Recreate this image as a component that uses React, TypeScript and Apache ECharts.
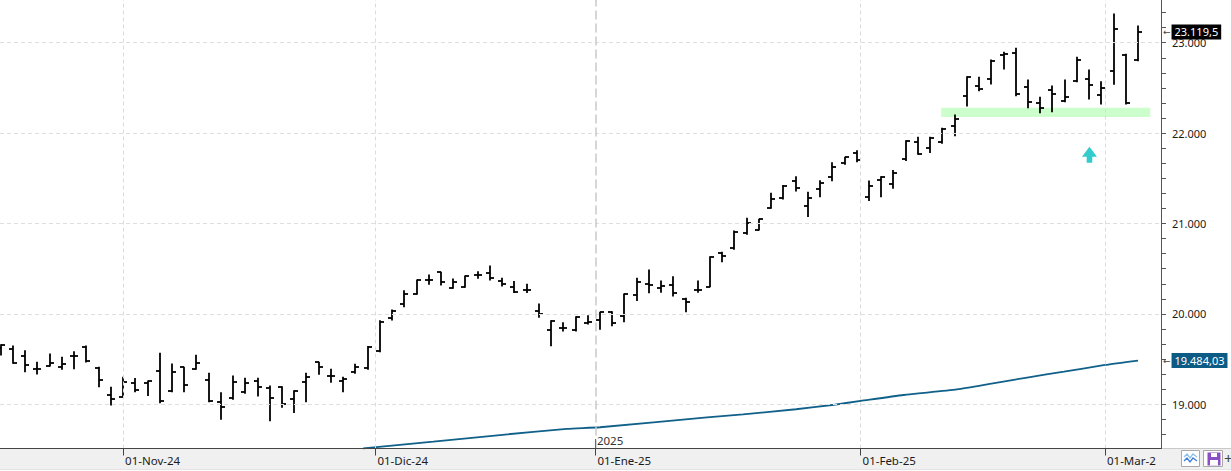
import React, { useEffect, useRef } from 'react';
import * as echarts from 'echarts';

// OHLC bars, one per trading day (index 0 = 18-Oct-24 ... 93 = 05-Mar-25)
const opens = [19620,19608,19534,19391,19424,19416,19534,19638,19398,19103,19085,19239,19239,19365,19151,19409,19387,19269,19029,19074,19133,19258,19177,19188,19055,19243,19464,19313,19258,19361,19398,19590,19951,20110,20216,20375,20460,20283,20294,20430,20449,20364,20301,20264,20032,19822,19848,19822,19903,19933,20025,19981,20209,20327,20283,20320,20161,20264,20301,20677,20733,20899,20928,21168,21279,21470,21197,21378,21511,21673,21784,21297,21481,21437,21716,21905,21832,21905,22082,22414,22525,22595,22864,22882,22506,22329,22477,22359,22573,22595,22422,22687,22864,22805];
const highs = [19660,19645,19593,19464,19557,19520,19582,19645,19409,19188,19298,19284,19258,19564,19446,19409,19542,19343,19129,19313,19287,19287,19203,19195,19151,19343,19464,19387,19298,19442,19638,19925,20043,20257,20375,20430,20460,20386,20419,20467,20530,20393,20357,20327,20110,19925,19903,19969,19980,20017,20025,20220,20394,20486,20364,20412,20172,20364,20633,20681,20917,21057,21046,21334,21419,21518,21345,21474,21673,21732,21806,21470,21518,21585,21916,21953,21953,22053,22200,22624,22617,22809,22893,22938,22587,22396,22521,22587,22838,22698,22569,23317,22871,23185];
const lows = [19545,19454,19361,19335,19424,19387,19394,19468,19195,18992,19085,19140,19096,19018,19140,19140,19387,19029,18834,19055,19121,19092,18819,18967,18908,19029,19331,19243,19140,19343,19387,19582,19932,20080,20216,20327,20320,20283,20294,20393,20375,20309,20238,20238,19962,19649,19811,19811,19888,19829,19870,19914,20147,20235,20239,20198,20025,20239,20301,20578,20714,20880,20928,21168,21271,21360,21076,21297,21474,21655,21684,21253,21297,21389,21698,21765,21784,21887,21972,22300,22469,22543,22709,22414,22281,22226,22237,22348,22569,22377,22322,22540,22322,22801];
const closes = [19659,19454,19435,19391,19453,19446,19534,19483,19269,19055,19250,19158,19258,19033,19361,19214,19461,19040,18974,19250,19232,19188,19066,19003,19147,19306,19409,19313,19276,19416,19638,19914,20036,20220,20375,20375,20357,20349,20419,20430,20393,20331,20246,20264,19995,19921,19848,19969,19914,20017,19900,20220,20349,20320,20312,20228,20135,20264,20626,20641,20902,21002,21046,21271,21419,21389,21279,21452,21621,21732,21702,21415,21511,21562,21916,21765,21942,22045,22152,22617,22484,22801,22871,22429,22340,22274,22429,22396,22805,22528,22495,23148,22329,23119.5];

// moving average line, read at these bar positions
const smaIdx = [29.64,35.37,40.82,46.28,49,57.75,60.7,65.03,67.97,70.32,73.83,78.2,81.13,84.05,86.95,90.3,93];
const smaVals = [18513,18586,18660,18727,18746,18856,18889,18945,18992,19037,19103,19165,19232,19299,19361,19435,19484.03];

const monthLabels = ['01-Nov-24', '01-Dic-24', '01-Ene-25', '01-Feb-25', '01-Mar-2'];
const monthPositions = [10, 30.64, 48.63, 70.31, 90.3];
const yTicks = [19000, 20000, 21000, 22000, 23000];

const bandX = [76.9, 94.0];
const bandY = [22178, 22281];
const arrowPos = [89.03, 21760];
const yearLabel = '2025';
const yearPos = [48.63, 18594];

const FONT = '"Noto Sans", "DejaVu Sans", sans-serif';

function fmtEs(v: number, d: number): string {
  const s = v.toFixed(d);
  const [intPart, dec] = s.split('.');
  const g = intPart.replace(/\B(?=(\d{3})+(?!\d))/g, '.');
  return dec ? g + ',' + dec : g;
}

export default function App() {
  const ref = useRef<HTMLDivElement>(null);
  useEffect(() => {
    document.body.style.margin = '0';
    const chart = echarts.init(ref.current!, null, { renderer: 'svg' });
    const ohlc = opens.map((o, i) => [i, o, closes[i], lows[i], highs[i]]);
    const lastClose = closes[closes.length - 1];
    const lastSma = smaVals[smaVals.length - 1];
    const tagLabel = (text: string, bg: string) => ({
      show: true,
      position: 'end',
      distance: 2,
      formatter: '{a|←}{b|' + text + '}',
      rich: {
        a: { color: '#444', fontSize: 9, fontFamily: '"DejaVu Sans", sans-serif', padding: [0, 1, 0, 0] },
        b: { color: '#fff', backgroundColor: bg, fontSize: 11, fontFamily: FONT, padding: [2, 3, 2, 3], lineHeight: 12 },
      },
    });
    const option: any = {
      animation: false,
      backgroundColor: '#ffffff',
      grid: { left: 0, right: 70, top: 0, bottom: 22.5, containLabel: false },
      xAxis: {
        type: 'value',
        min: -0.065,
        max: 94.88,
        z: 5,
        axisLine: { show: true, onZero: false, lineStyle: { color: '#444', width: 1 } },
        axisTick: { show: true, length: 7, customValues: monthPositions, lineStyle: { color: '#444' } },
        axisLabel: {
          customValues: monthPositions,
          formatter: (v: number) => {
            const k = monthPositions.findIndex((p) => Math.abs(p - v) < 1e-6);
            return k >= 0 ? monthLabels[k] : '';
          },
          align: 'left',
          margin: 6,
          padding: [0, 0, 0, 2],
          color: '#1a1a1a',
          fontSize: 11.5,
          fontFamily: FONT,
        },
        splitLine: { show: false },
      },
      yAxis: {
        type: 'value',
        position: 'right',
        min: 18511,
        max: 23472.3,
        z: 5,
        axisLine: { show: true, onZero: false, lineStyle: { color: '#555', width: 1 } },
        axisTick: { show: true, length: 5, customValues: yTicks, lineStyle: { color: '#555' } },
        minorTick: { show: true, splitNumber: 6, length: 5, lineStyle: { color: '#555' } },
        axisLabel: {
          customValues: yTicks,
          formatter: (v: number) => fmtEs(v, 0),
          margin: 11,
          color: '#1a1a1a',
          fontSize: 11,
          fontFamily: FONT,
        },
        splitLine: { show: true, lineStyle: { color: '#dedede', width: 1, type: [4, 3] } },
      },
      series: [
        {
          type: 'line',
          name: 'sma',
          data: smaIdx.map((x, i) => [x, smaVals[i]]),
          showSymbol: false,
          symbol: 'none',
          smooth: 0.2,
          clip: false,
          z: 2,
          lineStyle: { color: '#10608a', width: 1.8 },
          markArea: {
            silent: true,
            itemStyle: { color: '#ccffcc' },
            data: [[{ coord: [bandX[0], bandY[0]] }, { coord: [bandX[1], bandY[1]] }]],
          },
          markLine: {
            silent: true,
            symbol: ['none', 'none'],
            label: { show: false },
            data: [
              ...monthPositions.map((p, i) => ({
                xAxis: p,
                label: { show: false },
                lineStyle: i === 2
                  ? { color: '#c9c9c9', width: 1.5, type: [9, 4] }
                  : { color: '#dcdcdc', width: 1, type: [4, 3] },
              })),
              [
                { coord: [monthPositions[2], 18616], label: { show: false }, lineStyle: { color: '#6a6a6a', width: 1, type: 'solid' } },
                { coord: [monthPositions[2], 18511] },
              ],
              { yAxis: lastClose, lineStyle: { color: 'rgba(0,0,0,0)', width: 1 }, label: tagLabel(fmtEs(lastClose, 1), '#000000') },
              { yAxis: lastSma, lineStyle: { color: 'rgba(0,0,0,0)', width: 1 }, label: tagLabel(fmtEs(lastSma, 2), '#0b5b85') },
            ],
          },
          markPoint: {
            silent: true,
            data: [
              {
                coord: arrowPos,
                symbol: 'path://M7.5,0 L15,10 L10.3,10 L10.3,16 L4.7,16 L4.7,10 L0,10 Z',
                symbolSize: [15, 16],
                itemStyle: { color: '#33cccc' },
                label: { show: false },
              },
              {
                coord: yearPos,
                symbol: 'rect',
                symbolSize: 1,
                itemStyle: { color: 'rgba(0,0,0,0)' },
                label: { show: true, position: 'right', distance: 1, formatter: yearLabel, color: '#333', fontSize: 11.5, fontFamily: FONT },
              },
            ],
          },
        },
        {
          type: 'custom',
          name: 'ohlc',
          z: 4,
          data: ohlc,
          dimensions: ['i', 'open', 'close', 'low', 'high'],
          encode: { x: 0, y: [1, 2, 3, 4] },
          renderItem: (params: any, api: any) => {
            const x = api.value(0);
            const o = api.coord([x, api.value(1)]);
            const c = api.coord([x, api.value(2)]);
            const l = api.coord([x, api.value(3)]);
            const h = api.coord([x, api.value(4)]);
            const px = Math.round(o[0]);
            const st = { stroke: '#000', lineWidth: 1.8 };
            const oy = Math.round(o[1]);
            const cy = Math.round(c[1]);
            return {
              type: 'group',
              children: [
                { type: 'line', shape: { x1: px, y1: h[1] - 0.5, x2: px, y2: l[1] + 0.5 }, style: st },
                { type: 'line', shape: { x1: px - 4, y1: oy, x2: px, y2: oy }, style: st },
                { type: 'line', shape: { x1: px, y1: cy, x2: px + 4, y2: cy }, style: st },
              ],
            };
          },
        },
      ],
      graphic: [
        { type: 'rect', z: -10, silent: true, shape: { x: 0, y: 449, width: 1231, height: 20 }, style: { fill: '#f0f0f0' } },
        { type: 'line', silent: true, shape: { x1: 0, y1: 469.5, x2: 1231, y2: 469.5 }, style: { stroke: '#e4e4e4', lineWidth: 1 } },
        { type: 'line', silent: true, shape: { x1: 1161, y1: 448.5, x2: 1231, y2: 448.5 }, style: { stroke: '#c8c8c8', lineWidth: 1 } },
        { type: 'rect', silent: true, shape: { x: 1181.5, y: 450.5, width: 18, height: 16 }, style: { fill: '#ffffff', stroke: '#a9a9a9', lineWidth: 1 } },
        { type: 'polyline', silent: true, shape: { points: [[1184, 457], [1187, 454], [1190, 458], [1193, 454], [1197, 457]] }, style: { stroke: '#8fc0ea', fill: 'none', lineWidth: 1.3 } },
        { type: 'polyline', silent: true, shape: { points: [[1184, 461], [1187, 458], [1190, 462], [1193, 458], [1197, 461]] }, style: { stroke: '#3c7fd6', fill: 'none', lineWidth: 1.3 } },
        { type: 'rect', silent: true, shape: { x: 1203.5, y: 450.5, width: 19, height: 16 }, style: { fill: '#ffffff', stroke: '#a9a9a9', lineWidth: 1 } },
        { type: 'rect', silent: true, shape: { x: 1207.5, y: 452.5, width: 13, height: 13 }, style: { fill: '#8b4fc4' } },
        { type: 'rect', silent: true, shape: { x: 1211, y: 453, width: 6, height: 4 }, style: { fill: '#ffffff' } },
        { type: 'rect', silent: true, shape: { x: 1210, y: 460, width: 8, height: 5.5 }, style: { fill: '#ffffff' } },
        { type: 'text', silent: true, x: 1224, y: 450, style: { text: '+', fill: '#444', fontSize: 15, fontFamily: FONT } },
      ],
    };
    chart.setOption(option);
    return () => chart.dispose();
  }, []);
  return <div ref={ref} style={{ width: 1231, height: 471 }} />;
}
